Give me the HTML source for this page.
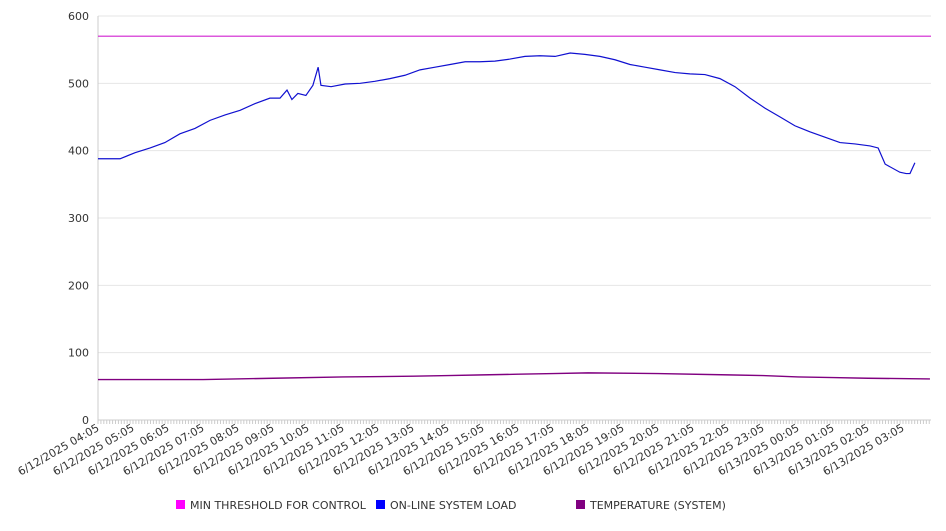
<!DOCTYPE html>
<html><head><meta charset="utf-8"><style>
body{margin:0;background:#fff;font-family:"Liberation Sans","DejaVu Sans",sans-serif}
svg text{font-family:"DejaVu Sans","Liberation Sans",sans-serif;fill:#333}
</style></head><body>
<svg id="chart" width="946" height="526" xmlns="http://www.w3.org/2000/svg"></svg>
<script>
const yTicks=[0,100,200,300,400,500,600];
const xLabels=["6/12/2025 04:05","6/12/2025 05:05","6/12/2025 06:05","6/12/2025 07:05","6/12/2025 08:05","6/12/2025 09:05","6/12/2025 10:05","6/12/2025 11:05","6/12/2025 12:05","6/12/2025 13:05","6/12/2025 14:05","6/12/2025 15:05","6/12/2025 16:05","6/12/2025 17:05","6/12/2025 18:05","6/12/2025 19:05","6/12/2025 20:05","6/12/2025 21:05","6/12/2025 22:05","6/12/2025 23:05","6/13/2025 00:05","6/13/2025 01:05","6/13/2025 02:05","6/13/2025 03:05"];
const loadHours=[0,0.63,1.06,1.49,1.91,2.34,2.77,3.2,3.63,4.06,4.49,4.91,5.2,5.4,5.54,5.71,5.94,6.14,6.29,6.37,6.66,7.06,7.49,7.91,8.34,8.77,9.2,9.63,10.06,10.49,10.91,11.34,11.77,12.2,12.63,13.06,13.49,13.91,14.34,14.77,15.2,15.63,16.06,16.49,16.91,17.34,17.77,18.2,18.63,19.06,19.49,19.91,20.34,20.77,21.2,21.63,22.06,22.29,22.49,22.91,23.09,23.2,23.34];
const loadValues=[388,388,397,404,412,425,433,445,453,460,470,478,478,490,476,485,482,497,524,497,495,499,500,503,507,512,520,524,528,532,532,533,536,540,541,540,545,543,540,535,528,524,520,516,514,513,507,495,478,463,450,437,428,420,412,410,407,404,380,368,366,366,382];
const tempHours=[0,3,5,7,9,10,11,12,13,14,16,18,19,20,21,22,23.77];
const tempValues=[60,60,62,64,65,66,67,68,69,70,69,67,66,64,63,62,61];
const threshold=570;
const totalHours=23.8;
const svg=document.getElementById('chart');
const NS='http://www.w3.org/2000/svg';
const X0=98,X1=931,Y0=420,Y1=16;
const x=h=>X0+h*35;
const y=v=>Y0-(v/600)*(Y0-Y1);
function mk(tag,attrs){const e=document.createElementNS(NS,tag);for(const k in attrs)e.setAttribute(k,attrs[k]);svg.appendChild(e);return e;}
yTicks.forEach(t=>{
 const g=mk('line',{x1:X0,x2:X1,y1:y(t),y2:y(t),stroke:t===0?'#ccc':'#e6e6e6'});
 
 
 const tx=mk('text',{x:89,y:y(t)+4,'text-anchor':'end','font-size':11});
 tx.textContent=t;
 
 
});
const ax=mk('line',{x1:X0,x2:X0,y1:Y1,y2:Y0,stroke:'#ccc'});


for(let i=0;i<=Math.floor(totalHours*12);i++){
 const m=mk('line',{x1:x(i/12),x2:x(i/12),y1:Y0,y2:Y0+4,stroke:'#ccc'});
 
 
}
xLabels.forEach((l,i)=>{
 const t=mk('text',{x:0,y:0,'text-anchor':'end','font-size':11,transform:`translate(${x(i)+2},${Y0+10}) rotate(-30)`});
 t.textContent=l;
 
 
});
const th=mk('line',{x1:X0,x2:X1,y1:y(threshold),y2:y(threshold),stroke:'#d020d0','stroke-width':1.2});


const lp=mk('polyline',{points:loadHours.map((h,i)=>x(h)+','+y(loadValues[i])).join(' '),fill:'none',stroke:'#1010d0','stroke-width':1.2});


const tp=mk('polyline',{points:tempHours.map((h,i)=>x(h)+','+y(tempValues[i])).join(' '),fill:'none',stroke:'#800080','stroke-width':1.4});


const legend=[["MIN THRESHOLD FOR CONTROL","#ff00ff",176],["ON-LINE SYSTEM LOAD","#0000ff",376],["TEMPERATURE (SYSTEM)","#800080",576]];
legend.forEach(([n,c,lx])=>{
 const r=mk('rect',{x:lx,y:500,width:9,height:9,fill:c});
 
 
 const t=mk('text',{x:lx+14,y:509,'font-size':11});
 t.textContent=n;
 
 
});
</script>
</body></html>
